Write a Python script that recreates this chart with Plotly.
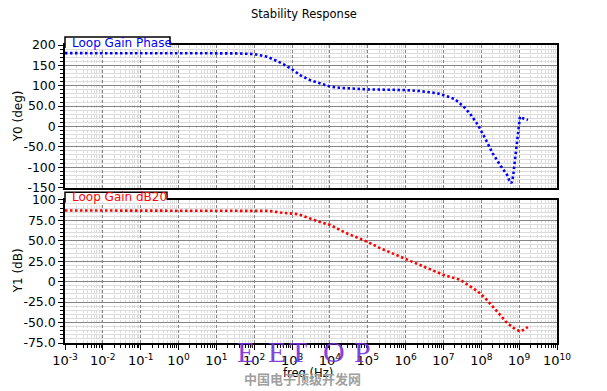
import plotly.graph_objects as go

# ---------------- data ----------------
phase_freq = [1e-3, 1e-2, 1e-1, 1, 10, 30, 93, 220, 316, 590, 980, 1.62e3, 2.95e3, 5.5e3,
              1e4, 1.8e4, 3e4, 9.5e4, 9.5e5, 2.4e6, 6.8e6, 1.1e7, 2e7, 3.3e7, 5e7, 8.1e7,
              1.26e8, 2e8, 3.1e8, 4.8e8, 5.5e8, 6.3e8, 6.9e8, 7.4e8, 8.1e8, 8.4e8, 9.3e8,
              1e9, 1.05e9, 1.26e9, 1.7e9]
phase_deg = [180, 180, 180, 180, 180, 179.5, 178, 171, 165, 153, 141, 126, 114, 105,
             98, 95, 93.7, 91, 89.5, 87, 81.5, 76, 67, 50, 32, 4,
             -29, -66, -94, -119, -133, -139, -123, -98, -62, -45, -16,
             4, 24, 20, 16]

gain_freq = [1e-3, 1e-2, 1e-1, 1, 10, 100, 250, 480, 1.45e3, 5.5e3, 1e4, 2.5e4, 9.5e4,
             2.1e5, 9.5e5, 2.4e6, 9.8e6, 2.75e7, 8.1e7, 1.26e8, 2e8, 3.1e8, 4.8e8,
             7.2e8, 1.05e9, 1.35e9, 1.7e9]
gain_db = [87, 87, 87, 87, 87, 87, 86.5, 84.5, 82.5, 72.8, 69.5, 60, 49,
           41, 28, 20.6, 8.4, 2.3, -12, -20, -30, -40.4, -50.6,
           -56.7, -60.8, -58.7, -55.4]

x_tickvals = [1e-3, 1e-2, 1e-1, 1, 10, 100, 1e3, 1e4, 1e5, 1e6, 1e7, 1e8, 1e9, 1e10]
x_ticktext = ["10<sup>-3</sup>", "10<sup>-2</sup>", "10<sup>-1</sup>", "10<sup>0</sup>",
              "10<sup>1</sup>", "10<sup>2</sup>", "10<sup>3</sup>", "10<sup>4</sup>",
              "10<sup>5</sup>", "10<sup>6</sup>", "10<sup>7</sup>", "10<sup>8</sup>",
              "10<sup>9</sup>", "10<sup>10</sup>"]
y0_tickvals = [200, 150, 100, 50, 0, -50, -100, -150]
y0_ticktext = ["200", "150", "100", "50.0", "0", "-50.0", "-100", "-150"]
y1_tickvals = [100, 75, 50, 25, 0, -25, -50, -75]
y1_ticktext = ["100", "75.0", "50.0", "25.0", "0", "-25.0", "-50.0", "-75.0"]

# ---------------- figure ----------------
OFF = 8                      # page body margin of the browser
W, H = 607 - OFF, 391 - OFF
ML = 65 - OFF
MT = 45 - OFF
MR = W - (557 - OFF)
MB = H - (343.3 - OFF)
PW = W - ML - MR
PH = H - MT - MB

def px_x(px):
    return (px - OFF - ML) / PW

def px_y(py):
    return (H - MB - (py - OFF)) / PH

FONT = "DejaVu Sans"
MAJ_GRID = "#858585"
MIN_GRID = "#dcdcdc"

fig = go.Figure()
fig.add_trace(go.Scatter(x=phase_freq, y=phase_deg, mode="lines", xaxis="x", yaxis="y",
                         line=dict(color="#0000ff", width=2.6, dash="2.5px,2.5px"),
                         showlegend=False))
fig.add_trace(go.Scatter(x=gain_freq, y=gain_db, mode="lines", xaxis="x2", yaxis="y2",
                         line=dict(color="#ff0000", width=2.6, dash="2.5px,2.5px"),
                         showlegend=False))

top_dom = [px_y(187.7), 1.0]
bot_dom = [0.0, px_y(200.0)]

xcommon = dict(type="log", range=[-3, 10], tickmode="array", tickvals=x_tickvals,
               showgrid=True, gridcolor=MAJ_GRID, gridwidth=1, griddash="3px,2px",
               showline=True, linecolor="black", linewidth=1.5, mirror=True,
               zeroline=False)

fig.update_layout(
    width=W, height=H,
    margin=dict(l=ML, r=MR, t=MT, b=MB, pad=0),
    paper_bgcolor="white", plot_bgcolor="white",
    font=dict(family=FONT, size=12.5, color="black"),
    xaxis=dict(**xcommon, anchor="y", showticklabels=False, ticks="",
               minor=dict(dtick="D1", showgrid=True, gridcolor=MIN_GRID, gridwidth=1)),
    xaxis2=dict(**xcommon, anchor="y2", ticktext=x_ticktext, ticks="outside",
                ticklen=5, tickcolor="black", tickfont=dict(size=13),
                minor=dict(dtick="D1", showgrid=True, gridcolor=MIN_GRID, gridwidth=1,
                           ticks="outside", ticklen=3, tickcolor="black")),
    yaxis=dict(domain=top_dom, range=[-150, 200], tickmode="array", tickvals=y0_tickvals,
               ticktext=y0_ticktext, ticks="outside", ticklen=5, tickcolor="black",
               showgrid=True, gridcolor=MAJ_GRID, gridwidth=1, zeroline=False,
               showline=True, linecolor="black", linewidth=1.5, mirror=True,
               minor=dict(dtick=10, tick0=0, showgrid=True, gridcolor=MIN_GRID,
                          ticks="outside", ticklen=3, tickcolor="black")),
    yaxis2=dict(domain=bot_dom, range=[-75, 100], tickmode="array", tickvals=y1_tickvals,
                ticktext=y1_ticktext, ticks="outside", ticklen=5, tickcolor="black",
                showgrid=True, gridcolor=MAJ_GRID, gridwidth=1, zeroline=False,
                showline=True, linecolor="black", linewidth=1.5, mirror=True,
                minor=dict(dtick=5, tick0=0, showgrid=True, gridcolor=MIN_GRID,
                           ticks="outside", ticklen=3, tickcolor="black")),
)

# legend tabs (white box straddling the top border of each panel)
def tab(x_right_px, top_px, step_px, bottom_px):
    x0, x1 = px_x(65), px_x(x_right_px)
    yt, ys, yb = px_y(top_px), px_y(step_px), px_y(bottom_px)
    fig.add_shape(type="rect", xref="paper", yref="paper", x0=x0, x1=x1, y0=yb, y1=yt,
                  fillcolor="white", line=dict(width=0), layer="above")
    fig.add_shape(type="path", xref="paper", yref="paper",
                  path=f"M {x0},{yb} L {x0},{yt} L {x1},{yt} L {x1},{ys}",
                  line=dict(color="black", width=1.5), layer="above")

tab(170, 37, 45, 48)
tab(167, 192.5, 200, 203)

ann = []
ann.append(dict(text="Loop Gain Phase", x=px_x(70), y=px_y(42.5), xanchor="left",
                yanchor="middle", font=dict(color="#0000ff", size=12)))
ann.append(dict(text="Loop Gain dB20", x=px_x(70), y=px_y(197), xanchor="left",
                yanchor="middle", font=dict(color="#ff0000", size=12)))
ann.append(dict(text="Stability Response", x=px_x(303.5), y=px_y(14), xanchor="center",
                yanchor="middle", font=dict(size=11.5)))
ann.append(dict(text="Y0 (deg)", x=px_x(18), y=px_y(116.4), xanchor="center",
                yanchor="middle", textangle=-90, font=dict(size=12)))
ann.append(dict(text="Y1 (dB)", x=px_x(18), y=px_y(271.6), xanchor="center",
                yanchor="middle", textangle=-90, font=dict(size=12)))
ann.append(dict(text="freq (Hz)", x=px_x(307.5), y=px_y(373), xanchor="center",
                yanchor="middle", font=dict(size=11.5)))

# watermark
for letter, cx in [("E", 245.5), ("E", 276.5), ("T", 298), ("O", 334), ("P", 362.5)]:
    ann.append(dict(text=letter, x=px_x(cx), y=px_y(351.5), xanchor="center", yanchor="middle",
                    font=dict(family="Liberation Serif", size=30, color="rgba(118,48,220,0.92)")))
ann.append(dict(text="<b>中国电子顶级开发网</b>", x=px_x(302.5), y=px_y(378.5), xanchor="center",
                yanchor="middle",
                font=dict(family="Noto Sans CJK SC", size=13, color="#a0a0a0")))

for a in ann:
    a.update(xref="paper", yref="paper", showarrow=False)
fig.update_layout(annotations=ann)

fig.write_html("out.html")
